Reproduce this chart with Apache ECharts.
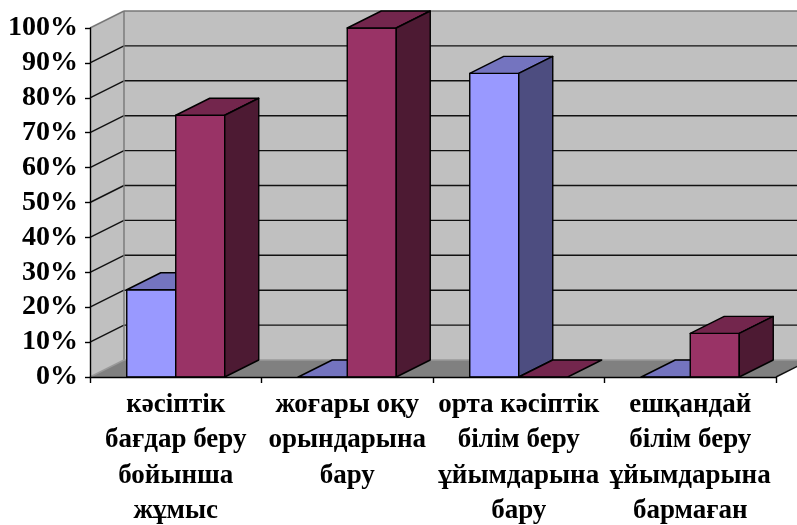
<!DOCTYPE html>
<html>
<head>
<meta charset="utf-8">
<script src="https://cdn.jsdelivr.net/npm/echarts@6/dist/echarts.min.js"></script>
<style>
html,body{margin:0;padding:0;background:#fff;overflow:hidden;}
#chart{width:797px;height:525px;}
</style>
</head>
<body>
<div id="chart"></div>
<script>
var categories = [
  'кәсіптік\nбағдар беру\nбойынша\nжұмыс',
  'жоғары оқу\nорындарына\nбару',
  'орта кәсіптік\nбілім беру\nұйымдарына\nбару',
  'ешқандай\nбілім беру\nұйымдарына\nбармаған'
];
var seriesBlue = [0.25, 0, 0.87, 0];
var seriesMaroon = [0.75, 1.00, 0, 0.125];
var yTicks = [0, 0.1, 0.2, 0.3, 0.4, 0.5, 0.6, 0.7, 0.8, 0.9, 1.0];

var DX = 34, DY = -17;
var BAR_FRAC = 49 / 171.5;

var chart = echarts.init(document.getElementById('chart'), null, {width: 797, height: 525});

function wallsRender(params, api) {
  var cs = params.coordSys;
  var x = cs.x, y = cs.y, w = cs.width, h = cs.height;
  var children = [];
  children.push({type:'polygon', shape:{points:[[x,y],[x+DX,y+DY],[x+DX,y+h+DY],[x,y+h]]}, style:{fill:'#C0C0C0', stroke:null}});
  children.push({type:'rect', shape:{x:x+DX, y:y+DY, width:w+40, height:h}, style:{fill:'#C0C0C0', stroke:null}});
  children.push({type:'polygon', shape:{points:[[x,y+h],[x+DX,y+h+DY],[x+w+DX,y+h+DY],[x+w,y+h]]}, style:{fill:'#808080', stroke:null}});
  for (var i = 1; i < yTicks.length - 1; i++) {
    var yy = api.coord([0, yTicks[i]])[1];
    children.push({type:'line', shape:{x1:x+DX, y1:yy+DY, x2:x+w+DX+40, y2:yy+DY}, style:{stroke:'#111', lineWidth:1.4}});
    children.push({type:'line', shape:{x1:x, y1:yy, x2:x+DX, y2:yy+DY}, style:{stroke:'#111', lineWidth:1.4}});
  }
  children.push({type:'line', shape:{x1:x+DX, y1:y+DY, x2:x+w+DX+40, y2:y+DY}, style:{stroke:'#777', lineWidth:1.4}});
  children.push({type:'line', shape:{x1:x, y1:y, x2:x+DX, y2:y+DY}, style:{stroke:'#777', lineWidth:1.4}});
  children.push({type:'line', shape:{x1:x+DX, y1:y+DY, x2:x+DX, y2:y+h+DY}, style:{stroke:'#777', lineWidth:1.4}});
  children.push({type:'line', shape:{x1:x+DX, y1:y+h+DY, x2:x+w+DX, y2:y+h+DY}, style:{stroke:'#9a9a9a', lineWidth:1.4}});
  children.push({type:'line', shape:{x1:x, y1:y+h, x2:x+DX, y2:y+h+DY}, style:{stroke:'#9a9a9a', lineWidth:1.4}});
  children.push({type:'line', shape:{x1:x+w, y1:y+h, x2:x+w+DX, y2:y+h+DY}, style:{stroke:'#111', lineWidth:1.4}});
  return {type:'group', children:children};
}

function makeBarRender(left, colors) {
  return function (params, api) {
    var idx = api.value(0), v = api.value(1);
    var top = api.coord([idx, v]);
    var base = api.coord([idx, 0]);
    var bw = api.size([1, 0])[0] * BAR_FRAC;
    var x0 = left ? top[0] - bw : top[0];
    var x1 = x0 + bw;
    var yt = top[1], yb = base[1];
    var st = {stroke:'#000', lineWidth:1.4, lineJoin:'round'};
    var children = [];
    children.push({type:'rect', shape:{x:x0, y:yt, width:bw, height:yb-yt}, style:Object.assign({fill:colors[0]}, st)});
    children.push({type:'polygon', shape:{points:[[x0,yt],[x0+DX,yt+DY],[x1+DX,yt+DY],[x1,yt]]}, style:Object.assign({fill:colors[1]}, st)});
    if (yb - yt > 0.5) {
      children.push({type:'polygon', shape:{points:[[x1,yt],[x1+DX,yt+DY],[x1+DX,yb+DY],[x1,yb]]}, style:Object.assign({fill:colors[2]}, st)});
    }
    return {type:'group', children:children};
  };
}

var option = {
  animation: false,
  backgroundColor: '#fff',
  grid: {left: 90, right: 21, top: 28, bottom: 148, containLabel: false, outerBoundsMode: 'none'},
  xAxis: {
    type: 'category',
    data: categories,
    z: 10,
    axisLine: {show: true, lineStyle: {color: '#000', width: 1.4}},
    axisTick: {show: true, length: 6, alignWithLabel: false, lineStyle: {color: '#000', width: 1.4}},
    axisLabel: {interval: 0, margin: 10, color: '#000', fontFamily: 'Liberation Serif', fontWeight: 'bold', fontSize: 27, lineHeight: 35.5, align: 'center'},
    splitLine: {show: false}
  },
  yAxis: {
    type: 'value',
    min: 0, max: 1, interval: 0.1,
    z: 10,
    axisLine: {show: true, lineStyle: {color: '#000', width: 1.4}},
    axisTick: {show: true, length: 5, lineStyle: {color: '#000', width: 1.4}},
    axisLabel: {margin: 12, color: '#000', fontFamily: 'Liberation Serif', fontWeight: 'bold', fontSize: 28,
      formatter: function (v) { return Math.round(v * 100) + '%'; }},
    splitLine: {show: false}
  },
  series: [
    {type: 'custom', name: 'walls', z: 1, silent: true, renderItem: wallsRender, data: [[0, 0]]},
    {type: 'custom', name: 'Series 1', z: 2, renderItem: makeBarRender(true, ['#9999FF', '#7474BF', '#4D4D80']),
      data: seriesBlue.map(function (v, i) { return [i, v]; })},
    {type: 'custom', name: 'Series 2', z: 3, renderItem: makeBarRender(false, ['#993366', '#73264D', '#4D1A33']),
      data: seriesMaroon.map(function (v, i) { return [i, v]; })}
  ]
};
chart.setOption(option);
</script>
</body>
</html>
